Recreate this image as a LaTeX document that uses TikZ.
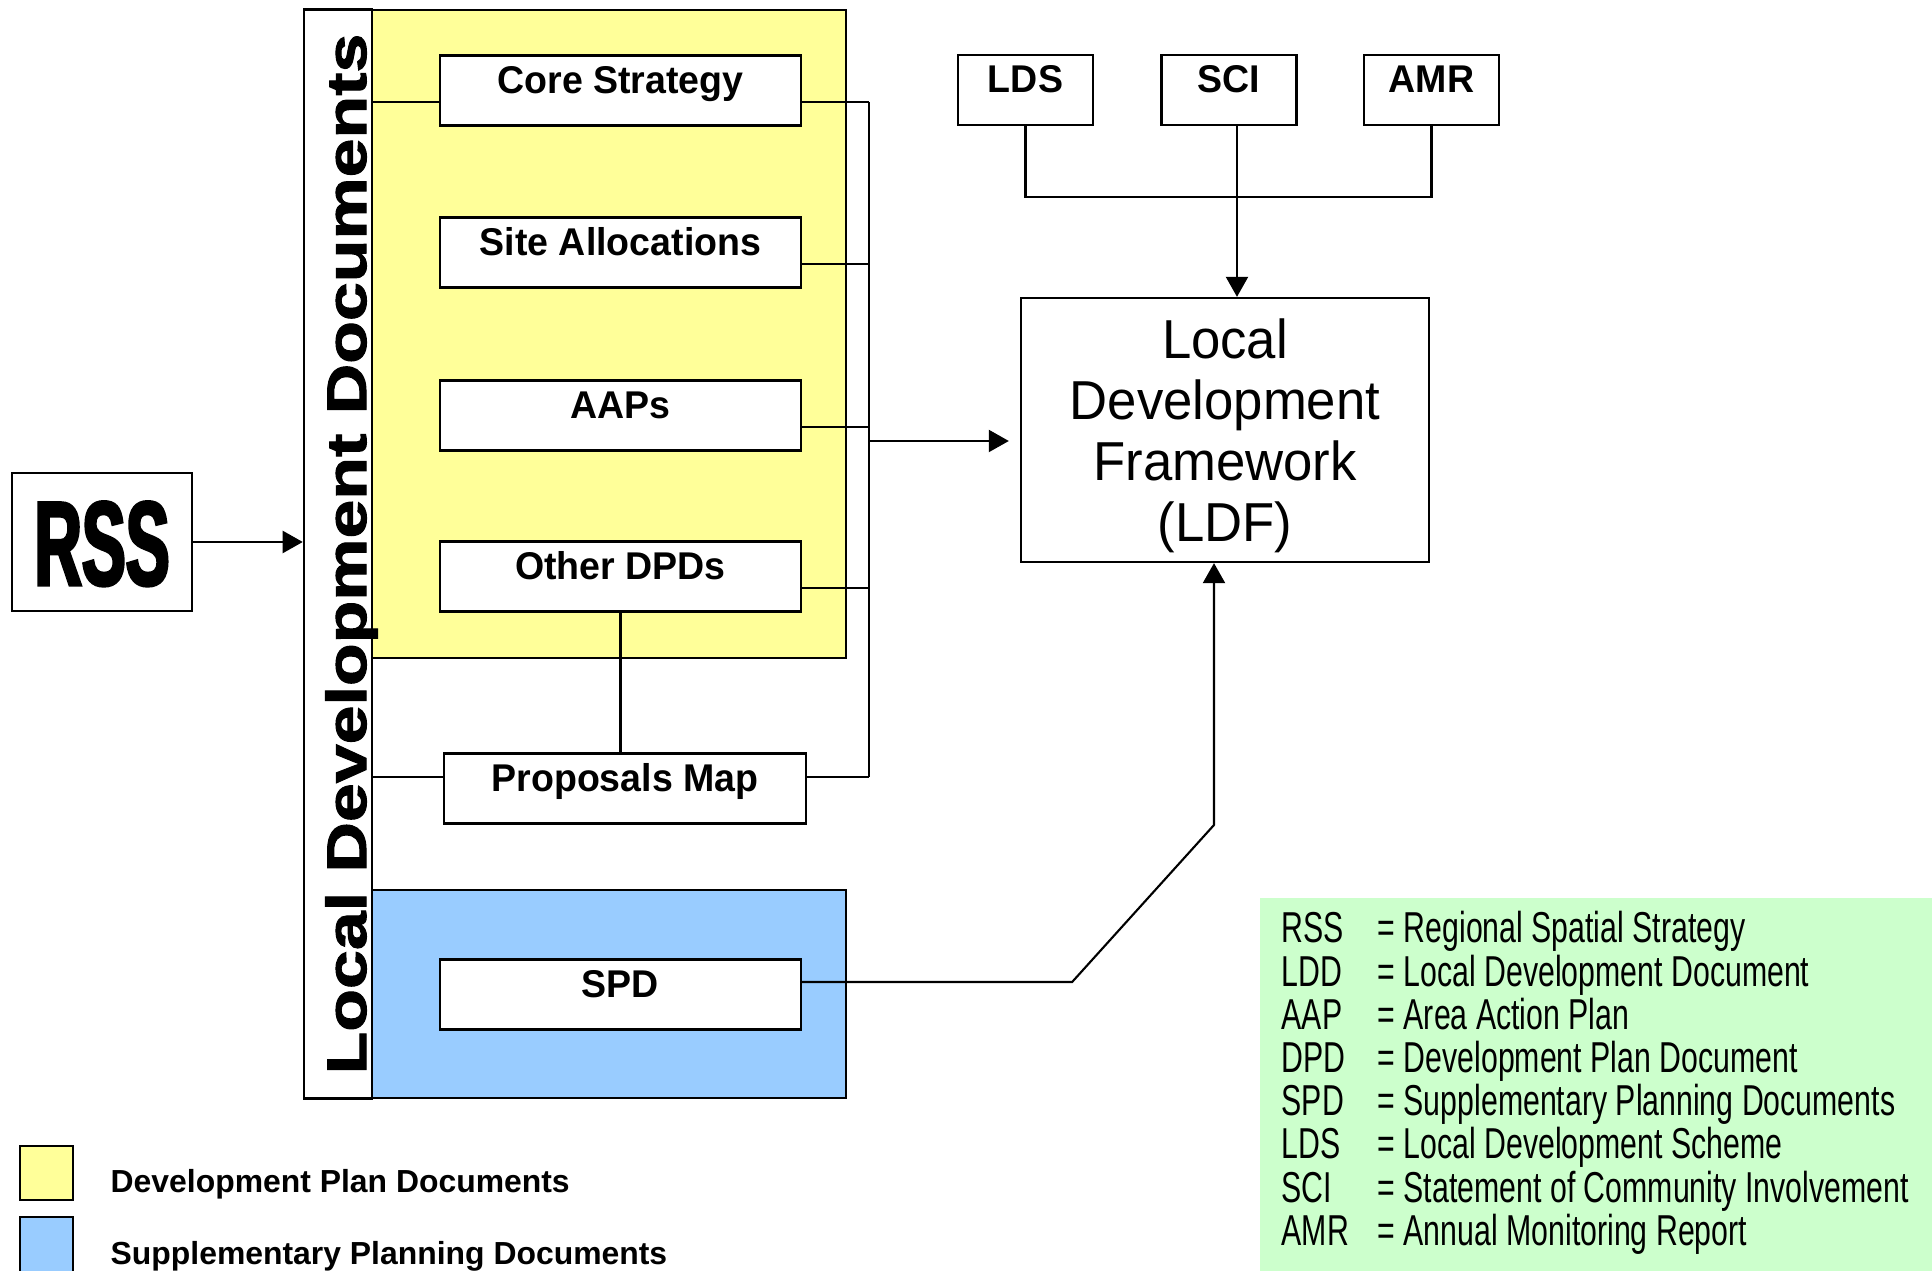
\documentclass[tikz,border=0pt]{standalone}
\usepackage{fontspec}
\setmainfont{Liberation Sans}
\newfontfamily\labelfont[FakeStretch=0.97]{Liberation Sans}
\newfontfamily\rssfont[FakeStretch=0.55,FakeBold=2.5]{Liberation Sans}
\newfontfamily\lddfont[FakeStretch=1.25,FakeBold=1.8]{Liberation Sans}
\newfontfamily\ldffont[FakeStretch=0.96]{Liberation Sans}
\newfontfamily\keyfont[FakeStretch=0.70]{Liberation Sans}
\usetikzlibrary{arrows.meta,positioning,calc}
\definecolor{dpdyellow}{HTML}{FFFF99}
\definecolor{spdblue}{HTML}{99CCFF}
\definecolor{keygreen}{HTML}{CCFFCC}
\tikzset{
  docbox/.style={draw, fill=white, line width=0.6pt, inner sep=0pt,
    minimum width=3.61cm, text height=0.38cm, text depth=0.32cm,
    font=\labelfont\bfseries\fontsize{11}{13}\selectfont},
  rssbox/.style={draw, fill=white, line width=0.6pt, inner sep=0pt,
    minimum width=1.80cm, text height=1.12cm, text depth=0.26cm,
    font=\rssfont\bfseries\fontsize{34}{36}\selectfont},
  lddbar/.style={draw, fill=white, line width=0.7pt, rotate=90, inner sep=0pt,
    minimum width=10.88cm, text height=0.62cm, text depth=0.06cm,
    font=\lddfont\bfseries\fontsize{15.9}{18}\selectfont},
  ldfbox/.style={draw, line width=0.6pt, align=center, inner ysep=0pt,
    minimum width=4.08cm, minimum height=2.64cm,
    font=\ldffont\fontsize{15.6}{17.35}\selectfont},
  zone/.style={draw, line width=0.7pt},
  keyswatch/.style={draw, line width=0.6pt, inner sep=0pt, minimum width=0.53cm},
  keyabbr/.style={anchor=base west, inner sep=0pt, font=\keyfont\fontsize{12.3}{13}\selectfont},
  keylabel/.style={anchor=base west, inner sep=0pt, font=\bfseries\fontsize{9.07}{10}\selectfont},
  link/.style={line width=0.6pt},
  arr/.style={-{Triangle[length=0.2cm, width=0.22cm]}, line width=0.6pt}
}
\begin{document}
\begin{tikzpicture}[x=0.01cm,y=-0.01cm]
  \useasboundingbox (0,0) rectangle (1932,1271);
  \fill[keygreen] (1260,898) rectangle (1932,1271);
  \draw[zone, fill=dpdyellow] (372,10) rectangle (846,658);
  \draw[zone, fill=spdblue] (372,890) rectangle (846,1098);
  \node[lddbar] (ldd) at (338,554) {Local Development Documents};
  \node[rssbox] (rss) at (102,542) {RSS};
  \foreach \y/\n/\lab in {90.5/cs/Core Strategy, 252.5/sa/Site Allocations,
      415.5/aap/AAPs, 576.5/odpd/Other DPDs, 994.5/spd/SPD}
    \node[docbox] (\n) at (620.5,\y) {\lab};
  \node[docbox] (pm) at (625,788.5) {Proposals Map};
  \foreach \x/\n/\lab in {1025.5/lds/LDS, 1229/sci/SCI, 1431.5/amr/AMR}
    \node[docbox, minimum width=1.35cm] (\n) at (\x,90) {\lab};
  \node[ldfbox] (ldf) at (1225,430) {\rule{0pt}{0.52cm}Local\\Development\\Framework\\(LDF)};
  \coordinate (bus) at (869,441);
  \coordinate (kink) at (1214,825);
  \foreach \n in {cs,sa,aap,odpd} {
    \coordinate (r\n) at ([yshift=-0.115cm]\n.east);
    \draw[link] (r\n) -- (r\n -| bus);
  }
  \coordinate (lcs) at ([yshift=-0.115cm]cs.west);
  \coordinate (lpm) at ([yshift=0.115cm]pm.west);
  \coordinate (rpm) at ([yshift=0.115cm]pm.east);
  \coordinate (rspd) at ([yshift=0.125cm]spd.east);
  \coordinate (scib) at ([xshift=0.08cm]sci.south);
  \draw[link] (lcs -| ldd.south) -- (lcs);
  \draw[link] (lpm -| ldd.south) -- (lpm);
  \draw[link] (rpm) -- (rpm -| bus);
  \draw[link] (rcs -| bus) -- (rpm -| bus);
  \draw[link] (odpd.south) -- (odpd.south |- pm.north);
  \draw[arr, shorten >=0.11cm] (bus) -- (bus -| ldf.west);
  \draw[arr] (rss.east) -- (rss.east -| ldd.north);
  \draw[link] (lds.south) -- ++(0,71) -| (amr.south);
  \draw[arr] (scib) -- (scib |- ldf.north);
  \draw[arr] (rspd) -- ++(270,0) -- (kink) -- (kink |- ldf.south);
  \foreach \i/\ab/\txt in {0/RSS/Regional Spatial Strategy, 1/LDD/Local Development Document,
      2/AAP/Area Action Plan, 3/DPD/Development Plan Document,
      4/SPD/Supplementary Planning Documents, 5/LDS/Local Development Scheme,
      6/SCI/Statement of Community Involvement, 7/AMR/Annual Monitoring Report} {
    \node[keyabbr] (ab\i) at (1281,{943+43.2*\i}) {\ab};
    \node[keyabbr] (tx\i) at (1377,{943+43.2*\i}) {= \txt};
  }
  \node[keyswatch, fill=dpdyellow, minimum height=0.54cm] (keydpd) at (46.5,1173) {};
  \node[keyswatch, fill=spdblue, minimum height=0.58cm] (keyspd) at (46.5,1246) {};
  \node[keylabel] (keydpdtext) at (110,1193) {Development Plan Documents};
  \node[keylabel] (keyspdtext) at (110,1265) {Supplementary Planning Documents};
\end{tikzpicture}
\end{document}
